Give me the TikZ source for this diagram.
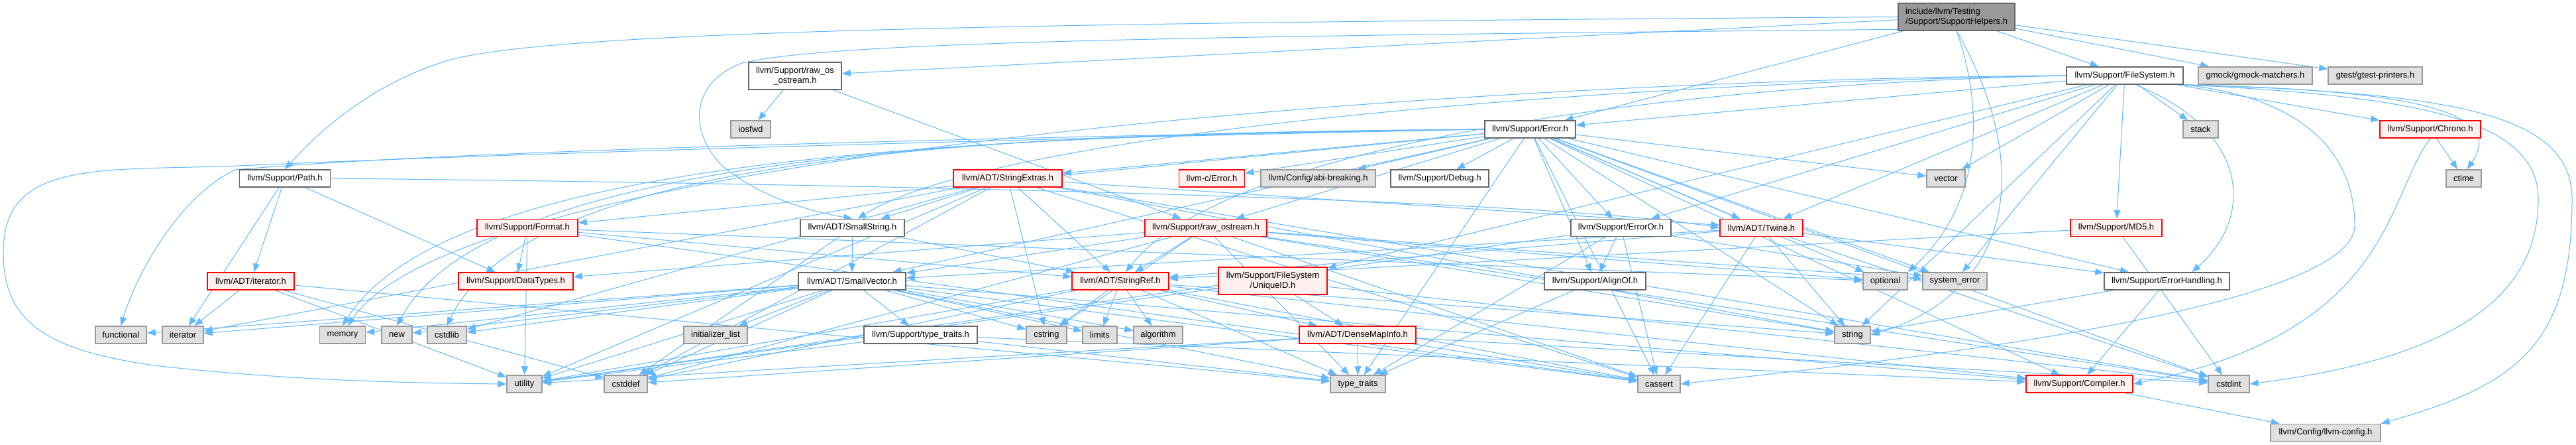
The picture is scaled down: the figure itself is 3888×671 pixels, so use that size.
\documentclass[tikz,border=0pt]{standalone}
\usepackage{fontspec}
\setmainfont{Liberation Sans}[Ligatures=NoCommon]
\usetikzlibrary{arrows.meta,backgrounds}
\definecolor{edgec}{HTML}{63B8FF}
\definecolor{rfill}{HTML}{FFF0F0}
\definecolor{gfill}{HTML}{E0E0E0}
\definecolor{bdark}{HTML}{666666}
\definecolor{bgray}{HTML}{999999}
\definecolor{rootfill}{HTML}{999999}
\begin{document}
\begin{tikzpicture}[x=1pt,y=-1pt,
  nbase/.style={draw, line width=1.5pt, minimum height=26pt, inner sep=0pt, font=\fontsize{13}{15}\selectfont, align=center},
  nwhite/.style={nbase, draw=bdark, fill=white},
  nred/.style={nbase, draw=red, fill=rfill},
  ngray/.style={nbase, draw=bgray, fill=gfill},
  nroot/.style={nbase, draw=bdark, fill=rootfill},
  dep/.style={draw=edgec, line width=1pt, -{Triangle[length=13pt,width=10pt]}}]
\useasboundingbox (0,0) rectangle (3888,671);
% row 0
\node[nroot, minimum width=176pt, minimum height=41pt, align=left] (helpers) at (2953,25.5) {include/llvm/Testing\\/Support/SupportHelpers.h};
% row 1
\node[nwhite, minimum width=140pt, minimum height=41pt] (rawos) at (1200,114.5) {llvm/Support/raw\_os\\\_ostream.h};
\node[nwhite, minimum width=176pt] (filesystem) at (3207,114) {llvm/Support/FileSystem.h};
\node[ngray, minimum width=172pt] (gmock) at (3404,114) {gmock/gmock-matchers.h};
\node[ngray, minimum width=142pt] (gtest) at (3585,114) {gtest/gtest-printers.h};
% row 2
\node[ngray, minimum width=60pt] (iosfwd) at (1133,195) {iosfwd};
\node[nwhite, minimum width=137pt] (error) at (2309.5,195) {llvm/Support/Error.h};
\node[ngray, minimum width=53pt] (stack) at (3321.5,195) {stack};
\node[nred, minimum width=152pt] (chrono) at (3668,195) {llvm/Support/Chrono.h};
% row 3
\node[nwhite, minimum width=137pt] (path) at (430,269) {llvm/Support/Path.h};
\node[nred, minimum width=164pt] (strext) at (1521,269) {llvm/ADT/StringExtras.h};
\node[nred, minimum width=99pt] (cerror) at (1829,269) {llvm-c/Error.h};
\node[ngray, minimum width=173pt] (abi) at (1989.5,269) {llvm/Config/abi-breaking.h};
\node[nwhite, minimum width=148pt] (debug) at (2173,269) {llvm/Support/Debug.h};
\node[ngray, minimum width=58pt] (vector) at (2937,269) {vector};
\node[ngray, minimum width=53pt] (ctime) at (3718.5,269) {ctime};
% row 4
\node[nred, minimum width=152pt] (format) at (796,343.5) {llvm/Support/Format.h};
\node[nwhite, minimum width=157pt] (smallstr) at (1286.5,343.5) {llvm/ADT/SmallString.h};
\node[nred, minimum width=184pt] (rawostream) at (1820,343.5) {llvm/Support/raw\_ostream.h};
\node[nwhite, minimum width=151pt] (erroror) at (2446.5,343.5) {llvm/Support/ErrorOr.h};
\node[nred, minimum width=125pt] (twine) at (2658.5,343.5) {llvm/ADT/Twine.h};
\node[nred, minimum width=138pt] (md5) at (3194,343.5) {llvm/Support/MD5.h};
% row 5
\node[nred, minimum width=131pt] (iterh) at (378.5,424) {llvm/ADT/iterator.h};
\node[nred, minimum width=173pt] (datatypes) at (778.5,424) {llvm/Support/DataTypes.h};
\node[nwhite, minimum width=162pt] (smallvec) at (1286,424) {llvm/ADT/SmallVector.h};
\node[nred, minimum width=146pt] (strref) at (1691,424) {llvm/ADT/StringRef.h};
\node[nred, minimum width=164pt, minimum height=41pt] (uniqueid) at (1921,423.5) {llvm/Support/FileSystem\\/UniqueID.h};
\node[nwhite, minimum width=153pt] (alignof) at (2407.5,424) {llvm/Support/AlignOf.h};
\node[ngray, minimum width=67pt] (optional) at (2845.5,424) {optional};
\node[ngray, minimum width=97pt] (syserr) at (2950.5,424) {system\_error};
\node[nwhite, minimum width=189pt] (errhand) at (3270.5,424) {llvm/Support/ErrorHandling.h};
% row 6
\node[ngray, minimum width=77pt] (functional) at (182.5,505) {functional};
\node[ngray, minimum width=62pt] (iterator) at (276,505) {iterator};
\node[ngray, minimum width=69pt] (memory) at (517,505) {memory};
\node[ngray, minimum width=46pt] (new) at (599,505) {new};
\node[ngray, minimum width=59pt] (cstdlib) at (674.5,505) {cstdlib};
\node[ngray, minimum width=96pt] (initlist) at (1080,505) {initializer\_list};
\node[nwhite, minimum width=171pt] (typetrh) at (1389.5,505) {llvm/Support/type\_traits.h};
\node[ngray, minimum width=61pt] (cstring) at (1579.5,505) {cstring};
\node[ngray, minimum width=52pt] (limits) at (1660,505) {limits};
\node[ngray, minimum width=74pt] (algorithm) at (1748,505) {algorithm};
\node[nred, minimum width=176pt] (densemap) at (2049,505) {llvm/ADT/DenseMapInfo.h};
\node[ngray, minimum width=54pt] (string) at (2796,505) {string};
% row 7
\node[ngray, minimum width=53pt] (utility) at (791.5,579) {utility};
\node[ngray, minimum width=65pt] (cstddef) at (944.5,579) {cstddef};
\node[ngray, minimum width=83pt] (typetr) at (2049.5,579) {type\_traits};
\node[ngray, minimum width=64pt] (cassert) at (2504,579) {cassert};
\node[nred, minimum width=161pt] (compiler) at (3138.5,579) {llvm/Support/Compiler.h};
\node[ngray, minimum width=62pt] (cstdint) at (3364,579) {cstdint};
% row 8
\node[ngray, minimum width=166pt] (llvmconfig) at (3510,652.5) {llvm/Config/llvm-config.h};

\begin{pgfonlayer}{background}
\fill[white] (0,0) rectangle (3888,671);
% root
\foreach \t in {error,filesystem,rawos,gmock,gtest} {\draw[dep] (helpers) -- (\t);}
\draw[dep] (helpers.west) .. controls (1600,34) and (850,45) .. (680,90) .. controls (560,125) and (480,200) .. (path.north);
\draw[dep] (helpers.192) .. controls (1700,55) and (1250,65) .. (1120,95) .. controls (1040,125) and (1040,200) .. (1090,250) .. controls (1150,300) and (1230,320) .. (smallstr.north);
\draw[dep] (helpers.south) .. controls (2990,150) and (3000,300) .. (optional.north east);
\draw[dep] (helpers.south) .. controls (3070,250) and (3040,440) .. (string.east);
% Path
\foreach \t in {iterh,datatypes,iterator} {\draw[dep] (path) -- (\t);}
\draw[dep] (path.east) .. controls (1100,275) and (2300,295) .. (twine.west);
% raw_os_ostream
\foreach \t in {rawostream,iosfwd} {\draw[dep] (rawos) -- (\t);}
% SmallString
\foreach \t in {smallvec,strref,cstddef} {\draw[dep] (smallstr) -- (\t);}
% Error
\foreach \t in {cerror,smallvec,strext,twine,abi,alignof,compiler,debug,errhand,erroror,format,rawostream,cassert,cstdint,optional,string,syserr,typetr,vector} {\draw[dep] (error) -- (\t);}
\draw[dep] (error.west) .. controls (1500,200) and (800,230) .. (cstdlib.north);
\draw[dep] (error.west) .. controls (1500,202) and (740,230) .. (new.north);
\draw[dep] (error.west) .. controls (1500,204) and (680,230) .. (memory.north);
\draw[dep] (error.west) .. controls (1600,205) and (700,225) .. (355,256) .. controls (280,290) and (210,400) .. (functional.north);
\draw[dep] (error.west) .. controls (1600,208) and (800,230) .. (360,250) .. controls (150,258) and (5,240) .. (5,380) .. controls (5,480) and (60,530) .. (250,553) .. controls (450,575) and (650,578) .. (utility.west);
% FileSystem
\foreach \t in {twine,chrono,error,erroror,uniqueid,md5,stack,string,syserr,vector} {\draw[dep] (filesystem) -- (\t);}
\draw[dep] (filesystem.west) .. controls (2400,125) and (1500,200) .. (smallstr.60);
\draw[dep] (filesystem.west) .. controls (2500,128) and (1850,220) .. (strref.60);
\draw[dep] (filesystem.west) .. controls (2200,120) and (700,230) .. (memory.60);
\draw[dep] (filesystem.south east) .. controls (3700,140) and (3882,170) .. (3882,300) .. controls (3882,520) and (3800,580) .. (llvmconfig.north east);
\draw[dep] (filesystem.south east) .. controls (3650,145) and (3831,180) .. (3831,300) .. controls (3831,450) and (3700,540) .. (cstdint.east);
\draw[dep] (filesystem.south east) .. controls (3600,135) and (3790,160) .. (ctime.70);
\draw[dep] (filesystem.south east) .. controls (3500,150) and (3554,250) .. (3554,340) .. controls (3554,480) and (2700,560) .. (cassert.east);
\draw[dep] (filesystem.-40) .. controls (3400,200) and (3400,330) .. (errhand.20);
% StringExtras
\foreach \t in {smallstr,strref,twine,cassert,cstddef,cstdint,cstdlib,cstring,iterator,string,utility} {\draw[dep] (strext) -- (\t);}
% Twine
\foreach \t in {smallvec,strref,errhand,cassert,cstdint,string} {\draw[dep] (twine) -- (\t);}
% ErrorOr
\foreach \t in {alignof,cassert,syserr,typetr,utility} {\draw[dep] (erroror) -- (\t);}
\draw[dep] (alignof) -- (typetr);
\foreach \t in {compiler,string} {\draw[dep] (errhand) -- (\t);}
\draw[dep] (compiler) -- (llvmconfig);
% Format
\foreach \t in {strref,datatypes,cassert,optional,utility} {\draw[dep] (format) -- (\t);}
% raw_ostream
\foreach \t in {smallvec,strref,datatypes,cassert,cstddef,cstdint,cstring,optional,string,syserr,typetr} {\draw[dep] (rawostream) -- (\t);}
% SmallVector
\foreach \t in {compiler,typetrh,algorithm,cassert,cstddef,cstdlib,cstring,functional,initlist,iterator,limits,memory,new,typetr,utility} {\draw[dep] (smallvec) -- (\t);}
\foreach \t in {compiler,typetr,utility} {\draw[dep] (typetrh) -- (\t);}
% StringRef
\foreach \t in {densemap,compiler,algorithm,cassert,cstddef,cstring,limits,string,typetr,utility} {\draw[dep] (strref) -- (\t);}
\foreach \t in {cassert,cstddef,cstdint,typetr,utility} {\draw[dep] (densemap) -- (\t);}
\foreach \t in {densemap,cstdint,utility} {\draw[dep] (uniqueid) -- (\t);}
\foreach \t in {cstddef,iterator,typetr,utility} {\draw[dep] (iterh) -- (\t);}
% Chrono, MD5
\draw[dep] (chrono) -- (ctime);
\draw[dep] (chrono.south) .. controls (3600,300) and (3610,500) .. (compiler.east);
\foreach \t in {strref,cstdint} {\draw[dep] (md5) -- (\t);}
\end{pgfonlayer}
\end{tikzpicture}
\end{document}
